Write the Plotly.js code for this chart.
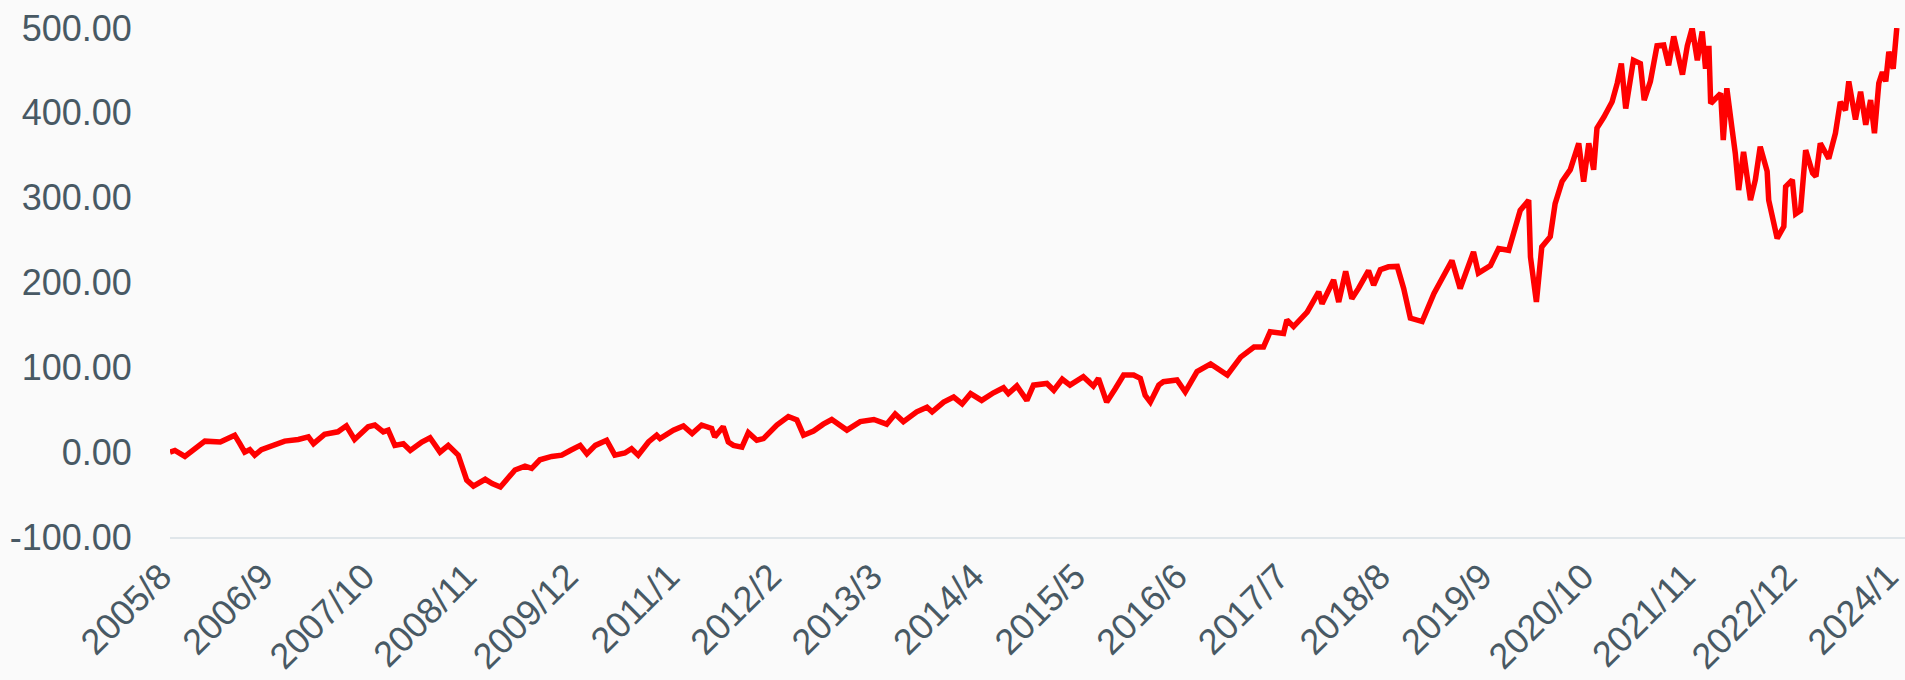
<!DOCTYPE html>
<html>
<head>
<meta charset="utf-8">
<script src="https://cdn.plot.ly/plotly-3.0.1.min.js"></script>
<style>
  html, body { margin: 0; padding: 0; background: #fafafa; }
  #chart { width: 1905px; height: 680px; }
</style>
</head>
<body>
<div id="chart"></div>
<script>
// Cumulative return (%)
var dates = [
  "2005-08-01","2005-08-20","2005-09-28","2005-11-13","2005-12-15","2006-02-13","2006-03-09","2006-04-10",
  "2006-04-30","2006-05-19","2006-06-08","2006-06-27","2006-07-23","2006-09-01","2006-10-22","2006-12-14",
  "2007-01-22","2007-02-11","2007-03-26","2007-05-17","2007-06-19","2007-07-21","2007-08-17","2007-09-12",
  "2007-10-08","2007-11-10","2007-11-29","2007-12-25","2008-01-27","2008-02-23","2008-04-08","2008-05-10",
  "2008-06-18","2008-07-20","2008-08-28","2008-09-17","2008-09-30","2008-10-26","2008-12-11","2009-01-07",
  "2009-02-08","2009-04-06","2009-05-15","2009-06-10","2009-07-12","2009-08-27","2009-10-05","2009-11-07",
  "2009-12-16","2010-01-11","2010-02-13","2010-03-29","2010-04-30","2010-06-08","2010-07-04","2010-07-30",
  "2010-09-08","2010-10-10","2010-10-23","2010-12-14","2011-01-22","2011-02-25","2011-04-03","2011-05-12",
  "2011-05-24","2011-06-26","2011-07-16","2011-08-05","2011-09-07","2011-10-02","2011-11-04","2011-11-30",
  "2012-01-21","2012-03-06","2012-04-08","2012-05-04","2012-06-12","2012-07-20","2012-08-22","2012-10-20",
  "2012-12-11","2013-02-02","2013-03-24","2013-04-26","2013-05-28","2013-07-19","2013-08-28","2013-09-17",
  "2013-11-01","2013-12-10","2014-01-12","2014-02-14","2014-03-29","2014-05-14","2014-06-22","2014-07-11",
  "2014-08-13","2014-09-21","2014-10-17","2014-12-08","2015-01-04","2015-02-06","2015-03-08","2015-04-29",
  "2015-06-07","2015-06-27","2015-07-29","2015-09-01","2015-10-03","2015-11-11","2015-12-07","2015-12-26",
  "2016-01-15","2016-02-17","2016-03-06","2016-04-28","2016-05-30","2016-07-15","2016-09-06","2016-11-10",
  "2017-01-01","2017-02-22","2017-03-31","2017-04-26","2017-06-17","2017-06-30","2017-07-26","2017-09-17",
  "2017-11-01","2017-11-14","2017-12-29","2018-01-18","2018-02-14","2018-03-10","2018-04-05","2018-05-14",
  "2018-06-03","2018-06-29","2018-07-31","2018-09-03","2018-09-28","2018-10-24","2018-12-09","2019-01-24",
  "2019-04-04","2019-05-06","2019-06-27","2019-07-16","2019-09-01","2019-10-03","2019-11-11","2019-12-26",
  "2020-01-28","2020-02-04","2020-02-27","2020-03-19","2020-04-21","2020-05-10","2020-06-06","2020-07-08",
  "2020-08-10","2020-08-29","2020-09-18","2020-10-07","2020-10-20","2020-11-16","2020-12-18","2021-01-07",
  "2021-01-23","2021-02-09","2021-03-11","2021-04-07","2021-04-22","2021-05-16","2021-06-11","2021-07-07",
  "2021-07-26","2021-08-15","2021-09-18","2021-10-07","2021-10-26","2021-11-15","2021-12-04","2021-12-17",
  "2021-12-30","2022-01-06","2022-02-14","2022-02-24","2022-03-10","2022-03-29","2022-04-12","2022-04-25",
  "2022-05-14","2022-06-10","2022-06-29","2022-07-18","2022-08-14","2022-08-20","2022-09-22","2022-10-18",
  "2022-10-25","2022-11-20","2022-12-03","2022-12-22","2023-01-11","2023-02-07","2023-02-20","2023-03-09",
  "2023-04-11","2023-05-07","2023-05-26","2023-06-15","2023-06-28","2023-07-24","2023-08-13","2023-09-02",
  "2023-09-21","2023-10-06","2023-10-23","2023-11-06","2023-11-19","2023-12-01","2023-12-18","2024-01-01"
];
var values = [
  0, 2, -5, 6, 13, 12, 16, 20,
  10, 0, 3, -3.5, 3, 8, 13, 15,
  18, 10, 21, 24, 31, 15, 22, 30,
  32, 24, 26, 8, 10, 2, 12, 17,
  0, 8, -3.5, -21, -33, -40, -32, -37,
  -41, -21, -16.5, -19, -9, -5, -3.5, 2,
  8, -2, 8, 14, -3.5, -1, 4, -3.5,
  12, 20, 16, 26, 31, 22, 32, 28,
  18, 30, 12, 8, 6, 23, 14, 16,
  32, 42, 38, 20, 25, 33, 38.5, 26,
  36, 38.5, 33, 45, 36, 47.5, 53, 47.5,
  59, 65, 57, 69, 61, 70, 76, 69,
  78, 61, 79, 81, 73, 86, 79, 89,
  78, 87, 59, 75, 91, 91, 87, 67,
  59, 79, 83, 85, 71, 95, 104, 91,
  112, 124, 124, 142, 140, 156, 148, 165,
  189, 175, 203, 177, 213, 181, 193, 214,
  197, 215, 218.5, 219, 193, 158, 154, 187,
  226, 193, 236, 211, 220, 240, 238, 285,
  297, 230, 177, 242, 254, 293, 319, 333,
  364, 319, 364, 333, 382, 395, 413, 435,
  458, 405, 462, 458, 415, 437, 479, 480,
  456, 490, 445, 479, 500, 462, 496, 452,
  479, 411, 423, 368, 429, 384, 352, 309,
  354, 297, 321, 360, 331, 297, 252, 266,
  313, 321, 281, 285, 356, 329, 325, 364,
  346, 376, 413, 403, 437, 392, 425, 386,
  415, 376, 435, 448, 437, 472, 452, 500
];
var xTickLabels = ["2005/8","2006/9","2007/10","2008/11","2009/12","2011/1","2012/2","2013/3","2014/4",
                   "2015/5","2016/6","2017/7","2018/8","2019/9","2020/10","2021/11","2022/12","2024/1"];
var yTicks = [-100, 0, 100, 200, 300, 400, 500];

var xTickVals = xTickLabels.map(function (s) {
  var p = s.split("/");
  var m = p[1].length < 2 ? "0" + p[1] : p[1];
  return p[0] + "-" + m + "-01";
});

var textColor = "#485964";
var fontFam = "Liberation Sans, Arial, Helvetica, sans-serif";

var trace = {
  type: "scatter",
  mode: "lines",
  x: dates,
  y: values,
  line: { color: "#ff0000", width: 5.5 },
  hoverinfo: "skip"
};

var layout = {
  width: 1905,
  height: 680,
  paper_bgcolor: "#fafafa",
  plot_bgcolor: "#fafafa",
  margin: { l: 170, r: 0, t: 28, b: 143, pad: 0 },
  showlegend: false,
  font: { family: fontFam, size: 36, color: textColor },
  xaxis: {
    type: "date",
    range: ["2005-08-01", "2024-02-02"],
    tickmode: "array",
    tickvals: xTickVals,
    ticktext: xTickLabels,
    tickangle: -45,
    ticks: "outside",
    ticklen: 2,
    tickcolor: "rgba(0,0,0,0)",
    ticklabeloverflow: "allow",
    ticklabelshift: -9,
    showgrid: false,
    zeroline: false,
    showline: true,
    linecolor: "#e0e6ea",
    linewidth: 2,
    tickfont: { family: fontFam, size: 36, color: textColor },
    fixedrange: true
  },
  yaxis: {
    range: [-100, 500],
    tickmode: "array",
    tickvals: yTicks,
    ticktext: yTicks.map(function (v) { return v.toFixed(2); }),
    ticks: "outside",
    ticklen: 30,
    tickcolor: "rgba(0,0,0,0)",
    showgrid: false,
    zeroline: false,
    showline: false,
    tickfont: { family: fontFam, size: 36, color: textColor },
    fixedrange: true
  }
};

Plotly.newPlot("chart", [trace], layout, { displayModeBar: false, staticPlot: true });
</script>
</body>
</html>
